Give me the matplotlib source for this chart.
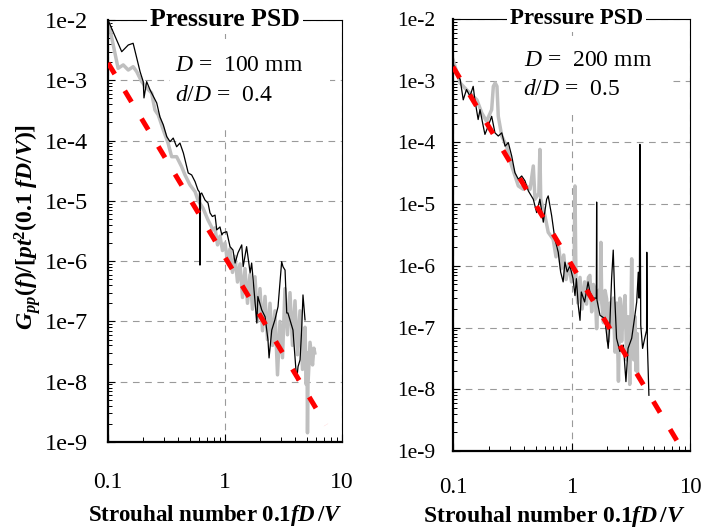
import matplotlib
matplotlib.use("Agg")
import matplotlib.pyplot as plt
from matplotlib.patches import Rectangle
from matplotlib.ticker import LogLocator, NullFormatter, FixedLocator, FixedFormatter
import numpy as np

plt.rcParams['font.family'] = ['Liberation Serif', 'DejaVu Serif']
plt.rcParams['mathtext.fontset'] = 'custom'
plt.rcParams['mathtext.rm'] = 'Liberation Serif'
plt.rcParams['mathtext.it'] = 'Liberation Serif:italic'
plt.rcParams['mathtext.bf'] = 'Liberation Serif:bold'
plt.rcParams['mathtext.bfit'] = 'Liberation Serif:italic:bold'

# ---------------- data ----------------
x_ticks = [0.1, 1, 10]
x_tick_labels = ["0.1", "1", "10"]
y_ticks = [1e-9, 1e-8, 1e-7, 1e-6, 1e-5, 1e-4, 1e-3, 1e-2]
y_tick_labels = ["1e-9", "1e-8", "1e-7", "1e-6", "1e-5", "1e-4", "1e-3", "1e-2"]

# Left panel: D = 100 mm, d/D = 0.4
left_black_x = [0.100, 0.131, 0.149, 0.164, 0.188, 0.200, 0.203, 0.214, 0.229, 0.261,
                0.278, 0.297, 0.318, 0.339, 0.361, 0.386, 0.412, 0.441, 0.485, 0.519,
                0.555, 0.587, 0.605, 0.611, 0.618, 0.632, 0.675, 0.716, 0.745, 0.78,
                0.822, 0.85, 0.906, 0.94, 0.962, 1.034, 1.104, 1.17, 1.22, 1.29,
                1.39, 1.43, 1.53, 1.64, 1.69, 1.80, 1.87, 1.91, 2.06, 2.20,
                2.33, 2.38, 2.51, 2.67, 2.84, 3.05, 3.13, 3.26, 3.37, 3.45,
                3.81, 4.10, 4.21, 4.38, 4.52, 4.64, 4.83]
left_black_y = [1.0e-2, 2.98e-3, 3.85e-3, 4.11e-3, 1.39e-3, 9.5e-4, 5.1e-4, 9.5e-4, 6.9e-4, 4.2e-4,
                2.46e-4, 1.82e-4, 1.16e-4, 9.6e-5, 1.10e-4, 7.9e-5, 9.1e-5, 6.2e-5, 2.9e-5, 2.69e-5,
                2.08e-5, 1.52e-5, 1.4e-5, 8.6e-7, 1.3e-5, 1.35e-5, 1.03e-5, 9.2e-6, 6.3e-6, 5.5e-6,
                5.8e-6, 3.3e-6, 3.69e-6, 2.72e-6, 2.94e-6, 3.08e-6, 1.74e-6, 1.53e-6, 9.3e-7, 1.37e-6,
                1.86e-6, 8.1e-7, 1.74e-6, 6.4e-7, 9.3e-7, 2.28e-7, 9.4e-8, 2.59e-7, 1.55e-7, 1.20e-7,
                4.9e-8, 2.48e-8, 7.2e-8, 1.06e-7, 1.76e-7, 9.8e-7, 8.1e-7, 7.1e-7, 1.38e-7, 1.38e-7,
                7.2e-8, 1.07e-8, 1.78e-8, 2.30e-8, 7.2e-8, 2.75e-7, 1.06e-7]

left_gray_x = [0.100, 0.122, 0.135, 0.149, 0.164, 0.176, 0.194, 0.214, 0.236, 0.252,
               0.269, 0.297, 0.326, 0.350, 0.386, 0.426, 0.455, 0.502, 0.555, 0.587,
               0.648, 0.716, 0.79, 0.821, 0.863, 0.906, 0.952, 1.00, 1.05, 1.103,
               1.159, 1.218, 1.279, 1.344, 1.412, 1.483, 1.557, 1.636, 1.718, 1.805,
               1.896, 1.991, 2.092, 2.198, 2.307, 2.424, 2.546, 2.674, 2.810, 2.951,
               3.100, 3.256, 3.42, 3.593, 3.775, 3.965, 4.165, 4.375, 4.596, 4.828,
               4.95, 5.02, 5.07, 5.12, 5.33, 5.60, 5.75, 5.85]
left_gray_y = [1.0e-2, 1.58e-3, 1.80e-3, 1.48e-3, 1.68e-3, 1.39e-3, 9.5e-4, 7.45e-4, 6.15e-4, 3.21e-4,
               2.66e-4, 1.50e-4, 9.1e-5, 5.4e-5, 5.4e-5, 3.69e-5, 2.69e-5, 1.84e-5, 1.42e-5, 1.03e-5,
               7.6e-6, 4.8e-6, 3.3e-6, 3.56e-6, 1.86e-6, 2.6e-6, 1.5e-6, 2.0e-6, 1.0e-6, 1.6e-6,
               6.5e-7, 1.2e-6, 4.5e-7, 9.0e-7, 2.5e-7, 7.5e-7, 2.0e-7, 6.0e-7, 1.6e-7, 5.5e-7,
               1.0e-7, 3.5e-7, 7.0e-8, 2.6e-7, 5.0e-8, 2.0e-7, 4.0e-8, 1.5e-7, 1.3e-8, 1.0e-7,
               2.5e-8, 3.5e-7, 6.0e-8, 3.0e-7, 4.0e-8, 2.2e-7, 2.8e-8, 1.5e-7, 1.6e-8, 8.0e-8,
               9.0e-9, 3.0e-8, 1.42e-9, 9.0e-9, 4.5e-8, 1.9e-8, 3.6e-8, 3.0e-8]

left_fit_x = [0.1, 7.3]
left_fit_y = [1.94e-3, 1.92e-9]

# Right panel: D = 200 mm, d/D = 0.5
right_black_x = [0.100, 0.115, 0.122, 0.130, 0.139, 0.148, 0.153, 0.163, 0.169, 0.180,
                 0.186, 0.198, 0.212, 0.226, 0.241, 0.258, 0.275, 0.293, 0.313, 0.333,
                 0.356, 0.380, 0.405, 0.432, 0.476, 0.508, 0.541, 0.578, 0.617, 0.636,
                 0.68, 0.724, 0.773, 0.81, 0.85, 0.88, 0.92, 0.97, 1.03, 1.07,
                 1.10, 1.14, 1.18, 1.21, 1.29, 1.38, 1.43, 1.52, 1.62, 1.63,
                 1.64, 1.74, 1.91, 2.04, 2.11, 2.18, 2.25, 2.32, 2.40, 2.56,
                 2.74, 2.88, 3.00, 3.22, 3.43, 3.55, 3.66, 3.72, 3.74, 3.78,
                 3.84, 3.98, 4.15, 4.30, 4.32, 4.37, 4.44, 4.50]
right_black_y = [1.9e-3, 1.04e-3, 4.9e-4, 7.2e-4, 5.6e-4, 8.1e-4, 4.9e-4, 2.35e-4, 3.4e-4, 1.83e-4,
                 1.35e-4, 1.83e-4, 2.65e-4, 1.43e-4, 1.27e-4, 1.43e-4, 8.7e-5, 9.9e-5, 6.0e-5, 3.24e-5,
                 2.53e-5, 2.86e-5, 2.38e-5, 1.64e-5, 1.20e-5, 7.3e-6, 1.20e-5, 5.1e-6, 1.2e-5, 1.36e-5,
                 6.5e-6, 2.72e-6, 1.66e-6, 7.9e-7, 5.5e-7, 1.15e-6, 8.0e-7, 1.0e-6, 6.2e-7, 3.3e-7,
                 6.2e-7, 2.29e-7, 1.31e-7, 3.77e-7, 2.6e-7, 5.5e-7, 3.77e-7, 3.0e-7, 3.0e-7, 1.08e-5,
                 2.8e-7, 1.58e-7, 1.40e-7, 4.6e-8, 1.24e-7, 6.2e-7, 1.8e-6, 2.94e-7, 6.7e-8, 4.1e-8,
                 5.2e-8, 1.33e-8, 4.6e-8, 6.7e-8, 1.58e-7, 2.6e-7, 7.9e-7, 3.0e-7, 4.0e-7, 9.3e-5,
                 1.1e-7, 4.6e-8, 6.7e-8, 9.0e-8, 1.66e-6, 5.2e-8, 1.93e-8, 8.0e-9]

right_gray_x = [0.100, 0.115, 0.126, 0.139, 0.159, 0.175, 0.192, 0.212, 0.219, 0.227,
                0.235, 0.241, 0.258, 0.283, 0.313, 0.356, 0.392, 0.418, 0.447, 0.476,
                0.492, 0.530, 0.541, 0.550, 0.597, 0.636, 0.70, 0.74, 0.78, 0.82,
                0.86, 0.90, 0.95, 1.00, 1.05, 1.07, 1.09, 1.13, 1.18, 1.23,
                1.29, 1.34, 1.39, 1.43, 1.48, 1.53, 1.58, 1.63, 1.69, 1.74,
                1.77, 1.80, 1.86, 1.92, 1.98, 2.04, 2.11, 2.18, 2.25, 2.33,
                2.41, 2.49, 2.56, 2.65, 2.74, 2.83, 2.92, 3.00, 3.10, 3.18,
                3.22, 3.27, 3.35, 3.43, 3.50, 3.58, 3.62]
right_gray_y = [2.18e-3, 9.2e-4, 7.6e-4, 6.3e-4, 4.9e-4, 3.0e-4, 2.2e-4, 3.4e-4, 8.1e-4, 9.2e-4,
                8.1e-4, 2.65e-4, 1.27e-4, 8.7e-5, 4.15e-5, 1.97e-5, 1.74e-5, 1.97e-5, 1.74e-5, 4.15e-5,
                1.2e-5, 1.5e-5, 7.7e-5, 1.2e-5, 6.5e-6, 3.5e-6, 2.7e-6, 1.4e-6, 2.0e-6, 9.0e-7,
                1.5e-6, 6.0e-7, 1.1e-6, 5.5e-7, 7.0e-7, 1.97e-5, 6.0e-7, 2.5e-7, 6.5e-7, 2.0e-7,
                5.5e-7, 2.4e-7, 6.5e-7, 7.0e-7, 1.8e-7, 5.0e-7, 4.25e-7, 9.6e-8, 4.0e-7, 2.9e-7,
                2.4e-6, 2.5e-7, 1.2e-7, 4.0e-7, 2.9e-7, 6.0e-8, 2.5e-7, 1.0e-7, 3.0e-7, 4.0e-8,
                2.5e-7, 1.35e-8, 3.0e-7, 6.0e-8, 2.0e-7, 3.3e-7, 3.0e-8, 1.5e-7, 1.2e-8, 2.0e-7,
                1.3e-6, 1.5e-7, 3.0e-8, 1.5e-7, 2.0e-8, 8.0e-8, 1.7e-8]

right_fit_x = [0.1, 10.0]
right_fit_y = [1.68e-3, 6.5e-10]

# ---------------- figure ----------------
fig = plt.figure(figsize=(7.15, 5.29), dpi=100)
ax1 = fig.add_axes([108/715, 87/529, 234/715, 422/529])
ax2 = fig.add_axes([453/715, 78/529, 237/715, 432/529])

grid_kw = dict(color='#9a9a9a', linestyle=(0, (6, 5)), linewidth=0.8)
red_ls = (0, (2.6, 3.9))


def setup(ax, panel):
    ax.set_xscale('log')
    ax.set_yscale('log')
    ax.set_xlim(0.1, 10)
    ax.set_ylim(1e-9, 1e-2)
    ax.set_axisbelow(True)
    ax.xaxis.set_major_locator(FixedLocator(x_ticks))
    ax.xaxis.set_major_formatter(FixedFormatter(x_tick_labels))
    ax.yaxis.set_major_locator(FixedLocator(y_ticks))
    ax.yaxis.set_major_formatter(FixedFormatter(y_tick_labels))
    ax.xaxis.set_minor_locator(LogLocator(base=10, subs=np.arange(2, 10), numticks=100))
    ax.yaxis.set_minor_locator(LogLocator(base=10, subs=np.arange(2, 10), numticks=100))
    ax.xaxis.set_minor_formatter(NullFormatter())
    ax.yaxis.set_minor_formatter(NullFormatter())
    ax.grid(True, which='major', **grid_kw)
    for s in ['left', 'bottom']:
        ax.spines[s].set_linewidth(1.6)
    for s in ['top', 'right']:
        ax.spines[s].set_linewidth(0.8)
    if panel == 'left':
        ylab, xlab, ypad, xpad = 17.5, 17, 14.4, 21.5
    else:
        ylab, xlab, ypad, xpad = 15.5, 16.5, 13, 19
    ax.tick_params(axis='y', which='major', direction='in', length=5, width=0.8,
                   left=True, right=False, labelsize=ylab, pad=ypad)
    ax.tick_params(axis='y', which='minor', direction='in', length=3, width=0.7,
                   left=True, right=False)
    ax.tick_params(axis='x', which='major', direction='in', length=5.5, width=0.8,
                   bottom=True, top=False, labelsize=xlab, pad=xpad)
    ax.tick_params(axis='x', which='minor', direction='in', length=3.5, width=0.7,
                   bottom=True, top=False)


setup(ax1, 'left')
setup(ax2, 'right')

# white boxes behind annotations (hide grid lines)
ax1.add_patch(Rectangle((0.265, 0.746), 0.684, 0.21, transform=ax1.transAxes,
                        facecolor='white', edgecolor='none', zorder=1))
ax2.add_patch(Rectangle((0.295, 0.778), 0.633, 0.18, transform=ax2.transAxes,
                        facecolor='white', edgecolor='none', zorder=1))

# data
ax1.plot(left_gray_x, left_gray_y, color='#bfbfbf', lw=2.5, zorder=2)
ax1.plot(left_black_x, left_black_y, color='black', lw=0.9, zorder=3)
ax1.plot(left_fit_x, left_fit_y, color='#ff0000', lw=3.6, linestyle=red_ls,
         dash_capstyle='butt', zorder=4)

ax2.plot(right_gray_x, right_gray_y, color='#bfbfbf', lw=2.5, zorder=2)
ax2.plot(right_black_x, right_black_y, color='black', lw=0.9, zorder=3)
ax2.plot(right_fit_x, right_fit_y, color='#ff0000', lw=3.6, linestyle=red_ls,
         dash_capstyle='butt', zorder=4)

# titles on the top spine
ax1.text(0.5, 1.0, 'Pressure PSD', transform=ax1.transAxes, ha='center', va='center',
         fontsize=18.5, fontweight='bold', zorder=10,
         bbox=dict(facecolor='white', edgecolor='none', pad=2))
ax2.text(0.52, 1.0, 'Pressure PSD', transform=ax2.transAxes, ha='center', va='center',
         fontsize=16.5, fontweight='bold', zorder=10,
         bbox=dict(facecolor='white', edgecolor='none', pad=2))

# annotations
ax1.text(0.286, 0.893, r'$D$ =  100 mm', transform=ax1.transAxes, ha='left', va='center',
         fontsize=17, zorder=5)
ax1.text(0.286, 0.822, r'$d/D$ =  0.4', transform=ax1.transAxes, ha='left', va='center',
         fontsize=17, zorder=5)
ax2.text(0.30, 0.905, r'$D$ =  200 mm', transform=ax2.transAxes, ha='left', va='center',
         fontsize=17, zorder=5)
ax2.text(0.295, 0.836, r'$d/D$ =  0.5', transform=ax2.transAxes, ha='left', va='center',
         fontsize=17, zorder=5)

# axis labels
xlabel = r'$\mathbf{Strouhal\ number\ 0.1}\mathbfit{fD}\,\mathbf{/}\mathbfit{V}$'
ax1.set_xlabel(xlabel, fontsize=16.5)
ax1.xaxis.set_label_coords(0.46, -0.145)
ax2.set_xlabel(xlabel, fontsize=17)
ax2.xaxis.set_label_coords(0.426, -0.122)

ylabel = (r'$\mathbfit{G}_{\mathbfit{pp}}\mathbf{(}\mathbfit{f}\mathbf{)/[}'
          r'\mathbfit{pt}^{\mathbf{2}}\mathbf{(0.1}\ \mathbfit{fD}\mathbf{/}\mathbfit{V}\mathbf{)]}$')
ax1.set_ylabel(ylabel, fontsize=17, va='center')
ax1.yaxis.set_label_coords(-0.346, 0.51)

fig.savefig('out.png', dpi=100)
